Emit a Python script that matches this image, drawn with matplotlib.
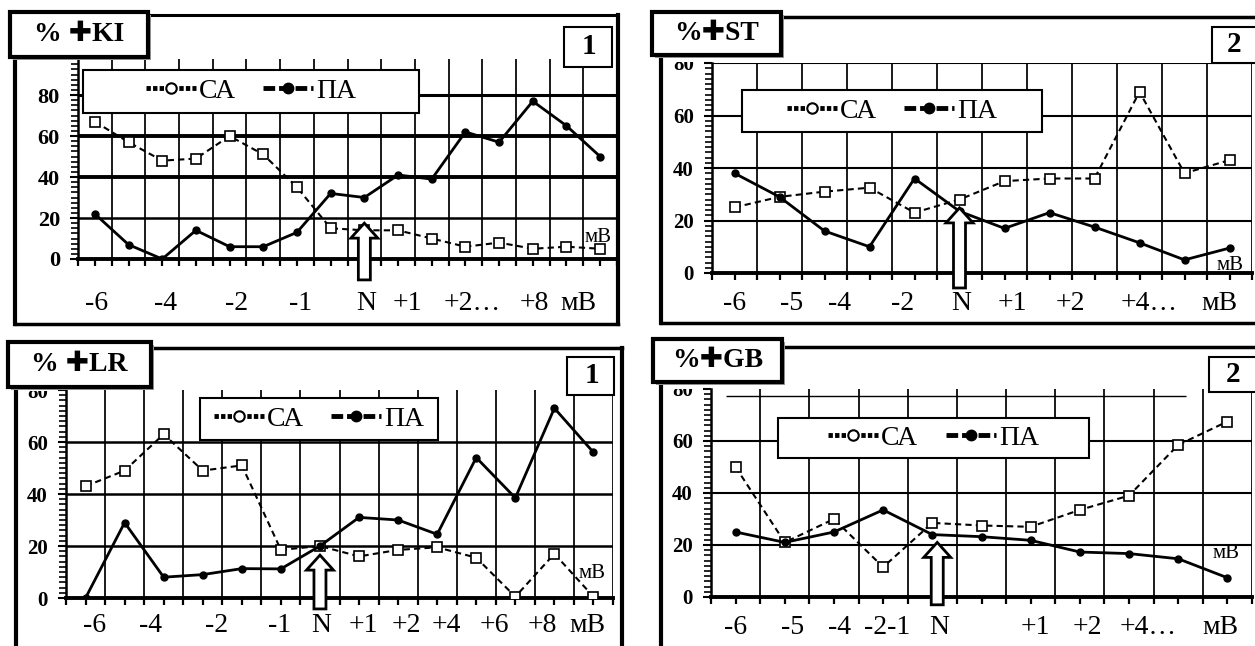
import matplotlib
matplotlib.use('Agg')
import matplotlib.pyplot as plt
from matplotlib.patches import Rectangle, Polygon
from matplotlib.lines import Line2D
from matplotlib.ticker import MultipleLocator
import matplotlib.transforms as mtransforms
import numpy as np

W, H = 1255, 646
fig = plt.figure(figsize=(W / 100, H / 100), dpi=100)
fig.patch.set_facecolor('white')

SERIF = ['Liberation Serif', 'DejaVu Serif', 'DejaVu Sans']

# ---------------- data ----------------
series_names = ['СА', 'ПА']
y_ticks = [0, 20, 40, 60, 80]

ki_ca = [67, 57, 48, 49, 60, 51, 35, 15, 14, 14, 10, 6, 8, 5, 6, 5]
ki_pa = [22, 7, 0, 14, 6, 6, 13, 32, 30, 41, 39, 62, 57, 77, 65, 50]
ki_labels = ['-6', '-4', '-2', '-1', 'N', '+1', '+2…', '+8', 'мВ']
ki_label_pos = [0.06, 2.11, 4.22, 6.12, 8.05, 9.29, 11.19, 13.05, 14.35]

st_ca = [25, 29, 31, 32.5, 23, 28, 35, 36, 36, 69, 38, 43]
st_pa = [38, 29, 16, 10, 36, 23.5, 17, 23, 17.5, 11.5, 5, 9.5]
st_labels = ['-6', '-5', '-4', '-2', 'N', '+1', '+2', '+4…', 'мВ']
st_label_pos = [0.0, 1.26, 2.34, 3.74, 5.03, 6.18, 7.47, 9.22, 10.78]

lr_ca = [43, 49, 63, 49, 51, 18.5, 20, 16, 18.5, 19.5, 15.5, 0.5, 17, 0.5]
lr_pa = [0, 29, 8, 9, 11.3, 11.2, 20, 31, 30, 24.5, 54, 38.5, 73, 56]
lr_labels = ['-6', '-4', '-2', '-1', 'N', '+1', '+2', '+4', '+6', '+8', 'мВ']
lr_label_pos = [0.22, 1.67, 3.36, 4.97, 6.02, 7.1, 8.2, 9.24, 10.47, 11.7, 12.85]

gb_ca = [50, 21, 30, 11.5, 28.5, 27.5, 27, 33.5, 39, 58.5, 67.5]
gb_pa = [25, 21, 25, 33.5, 24, 23.2, 21.8, 17.3, 16.7, 14.7, 7.4]
gb_labels = ['-6', '-5', '-4', '-2-1', 'N', '+1', '+2', '+4…', 'мВ']
gb_label_pos = [0.0, 1.15, 2.12, 3.08, 4.15, 6.1, 7.16, 8.38, 9.85]


def fx(x):
    return x / W


def fy(y):
    return 1 - y / H


def fig_line(x0, y0, x1, y1, lw, z=1):
    fig.add_artist(Line2D([fx(x0), fx(x1)], [fy(y0), fy(y1)], transform=fig.transFigure,
                          color='black', lw=lw, zorder=z, solid_capstyle='projecting'))


def fig_box(x0, y0, x1, y1, lw, z, shadow=False, edge='black'):
    if shadow:
        fig.add_artist(Rectangle((fx(x0 + 3), fy(y1 + 3)), (x1 - x0) / W, (y1 - y0) / H,
                                 transform=fig.transFigure, facecolor='#9a9a9a',
                                 edgecolor='none', zorder=z - 0.1))
    fig.add_artist(Rectangle((fx(x0), fy(y1)), (x1 - x0) / W, (y1 - y0) / H,
                             transform=fig.transFigure, facecolor='white',
                             edgecolor=edge, lw=lw, zorder=z))


panels = [
    dict(ca=ki_ca, pa=ki_pa, labels=ki_labels, lpos=ki_label_pos,
         axpx=(78, 59, 617, 259), ytop=97.6, minor=2.5, ylsize=16,
         hgrid=[(20, 1.8), (40, 2.8), (60, 2.8), (80, 2.2)], loff=44,
         title='% ✚KI', tbox=(10, 12, 148, 57), num='1', nbox=(564, 27, 612, 67),
         lbox=(83, 70, 419, 113), mask=None,
         frame=[(15, 15, 618, 15, 2.2), (15, 15, 15, 324, 3), (618, 15, 618, 324, 3),
                (15, 324, 618, 324, 2.5)],
         arrow=(8, 17.5, -10.2), mv=(598, 237)),
    dict(ca=st_ca, pa=st_pa, labels=st_labels, lpos=st_label_pos,
         axpx=(712, 63, 1252, 273), ytop=80, minor=2, ylsize=15,
         hgrid=[(20, 1.5), (40, 1.5), (60, 1.5), (80, 1.5)], loff=30,
         title='%✚ST', tbox=(652, 12, 781, 55), num='2', nbox=(1212, 27, 1262, 63),
         lbox=(742, 90, 1042, 132), mask=(664, 50, 704, 62),
         frame=[(661, 17, 1255, 17, 2.5), (661, 17, 661, 323, 3), (661, 323, 1255, 323, 2.5)],
         arrow=(5, 24.8, -5.7), mv=(1230, 265)),
    dict(ca=lr_ca, pa=lr_pa, labels=lr_labels, lpos=lr_label_pos,
         axpx=(66, 390, 613, 598), ytop=80, minor=2, ylsize=15,
         hgrid=[(20, 1.8), (40, 1.8), (60, 1.8)], loff=27,
         title='% ✚LR', tbox=(8, 342, 151, 387), num='1', nbox=(567, 357, 614, 395),
         lbox=(200, 398, 438, 440), mask=(19, 380, 58, 391),
         frame=[(16, 348, 622, 348, 2.5), (16, 348, 16, 646, 3), (622, 348, 622, 646, 3)],
         arrow=(6, 16.5, -4.2), mv=(592, 574)),
    dict(ca=gb_ca, pa=gb_pa, labels=gb_labels, lpos=gb_label_pos,
         axpx=(711, 389, 1252, 597), ytop=80, minor=2, ylsize=15,
         hgrid=[(20, 1.5), (40, 1.5), (60, 1.5)], loff=30,
         title='%✚GB', tbox=(653, 339, 782, 382), num='2', nbox=(1209, 357, 1262, 392),
         lbox=(778, 418, 1089, 458), mask=(664, 378, 703, 389),
         frame=[(661, 347, 1255, 347, 2.5), (661, 347, 661, 646, 3)],
         arrow=(4.1, 21, -3), mv=(1226, 554), extra=(77.3, -0.2, 9.15)),
]

for p in panels:
    x0, y0, x1, y1 = p['axpx']
    ax = fig.add_axes([fx(x0), fy(y1), (x1 - x0) / W, (y1 - y0) / H])
    ax.patch.set_alpha(0)
    n = len(p['ca'])
    xs = np.arange(n)
    ax.set_xlim(-0.5, n - 0.5)
    ax.set_ylim(0, p['ytop'])

    for k in range(1, n + 1):
        ax.axvline(k - 0.5, color='#1a1a1a', lw=1.4, zorder=1)
    for v, w in p['hgrid']:
        ax.axhline(v, color='black', lw=w, zorder=1)
    if 'extra' in p:
        v, a, b = p['extra']
        ax.hlines(v, a, b, color='black', lw=1.0, zorder=1)

    ax.plot(xs, p['ca'], color='black', lw=1.5, ls=(0, (3, 2)), marker='s', ms=6.5,
            mfc='white', mec='black', mew=1.2, zorder=3)
    ax.plot(xs, p['pa'], color='black', lw=2.0, ls='-', marker='o', ms=5,
            mfc='black', mec='black', zorder=4)

    for s in ['top', 'right']:
        ax.spines[s].set_visible(False)
    ax.spines['left'].set_linewidth(1.8)
    ax.spines['bottom'].set_linewidth(2.8)

    ax.set_yticks(y_ticks)
    ax.set_yticklabels([str(t) for t in y_ticks], fontfamily=SERIF, fontweight='bold',
                       fontsize=p['ylsize'])
    ax.yaxis.set_minor_locator(MultipleLocator(p['minor']))
    ax.tick_params(axis='y', which='major', direction='out', length=6, width=1.5, pad=7)
    ax.tick_params(axis='y', which='minor', direction='out', length=5, width=1.2)
    ax.set_xticks(np.arange(-0.5, n, 0.5))
    ax.set_xticklabels([])
    ax.tick_params(axis='x', which='major', direction='out', length=5, width=1.6)

    hax = (y1 - y0)
    tr = mtransforms.blended_transform_factory(ax.transData, ax.transAxes)
    for lab, pos in zip(p['labels'], p['lpos']):
        ax.text(pos, -p['loff'] / hax, lab, transform=tr, ha='center', va='center',
                fontfamily=SERIF, fontsize=20, clip_on=False)

    # arrow at N
    ai, atip, abot = p['arrow']
    tx, ty = ax.transData.transform((ai, atip))
    _, by = ax.transData.transform((ai, abot))
    sw, hw, hl = 12, 27, 15
    pts = [(tx, ty), (tx + hw / 2, ty - hl), (tx + sw / 2, ty - hl), (tx + sw / 2, by),
           (tx - sw / 2, by), (tx - sw / 2, ty - hl), (tx - hw / 2, ty - hl)]
    pts = [(a / W, b / H) for a, b in pts]
    fig.add_artist(Polygon(pts, closed=True, transform=fig.transFigure, facecolor='white',
                           edgecolor='black', lw=2, zorder=4))

    # cropped top tick label (as in the scanned original)
    if p['mask'] is not None:
        mx0, my0, mx1, my1 = p['mask']
        fig_box(mx0, my0, mx1, my1, lw=0, z=3, edge='none')

    # frame
    for fl in p['frame']:
        fig_line(*fl[:4], lw=fl[4], z=2)

    # small unit label
    fig.text(fx(p['mv'][0]), fy(p['mv'][1]), 'мВ', ha='center', va='center',
             fontfamily=SERIF, fontsize=15, zorder=5)

    # legend
    lx0, ly0, lx1, ly1 = p['lbox']
    fig_box(lx0, ly0, lx1, ly1, lw=1.5, z=5)
    h1 = Line2D([], [], color='black', ls=(0, (0.9, 0.45)), lw=3.5, marker='o', ms=7.5,
                mfc='white', mec='black', mew=1.5)
    h2 = Line2D([], [], color='black', ls=(0, (2.4, 0.8, 2.6, 0.8)), lw=3.5, marker='o',
                ms=7.5, mfc='black', mec='black')
    leg = fig.legend([h1, h2], series_names, loc='center',
                     bbox_to_anchor=(fx((lx0 + lx1) / 2), fy((ly0 + ly1) / 2)),
                     bbox_transform=fig.transFigure, ncol=2, frameon=False,
                     prop=dict(family=SERIF, size=20), handlelength=1.8,
                     handletextpad=0.1, columnspacing=1.0, borderpad=0)
    leg.set_zorder(6)

    # title box
    tx0, ty0, tx1, ty1 = p['tbox']
    fig_box(tx0, ty0, tx1, ty1, lw=3, z=7, shadow=True)
    fig.text(fx((tx0 + tx1) / 2), fy((ty0 + ty1) / 2), p['title'], ha='center', va='center',
             fontfamily=SERIF, fontweight='bold', fontsize=20, zorder=8)

    # number box
    nx0, ny0, nx1, ny1 = p['nbox']
    fig_box(nx0, ny0, nx1, ny1, lw=1.5, z=7)
    fig.text(fx((nx0 + min(nx1, W)) / 2 + 1), fy((ny0 + ny1) / 2), p['num'], ha='center',
             va='center', fontfamily=SERIF, fontweight='bold', fontsize=21, zorder=8)

fig.savefig('out.png', dpi=100)
